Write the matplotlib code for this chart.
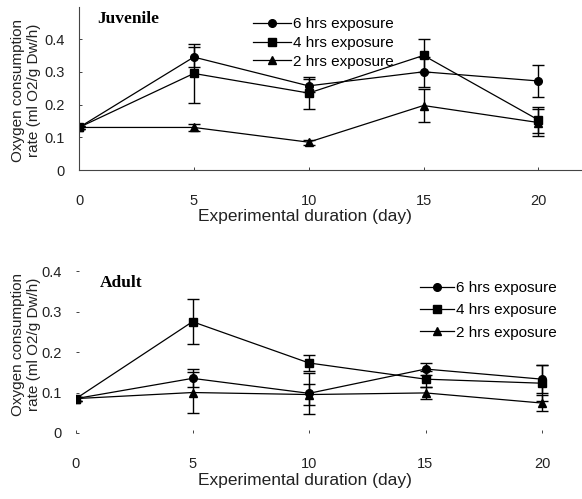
import numpy as np
import matplotlib
matplotlib.use('Agg')
import matplotlib.pyplot as plt

plt.rcParams['font.family'] = ['Liberation Sans', 'DejaVu Sans']

days = [0, 5, 10, 15, 20]
labels = ['6 hrs exposure', '4 hrs exposure', '2 hrs exposure']
markers = ['o', 's', '^']

# juvenile
juv_6h = [0.13, 0.345, 0.257, 0.30, 0.272]
juv_6h_err = [0.005, 0.03, 0.02, 0.045, 0.05]
juv_4h = [0.13, 0.295, 0.235, 0.35, 0.153]
juv_4h_err = [0.005, 0.09, 0.05, 0.05, 0.04]
juv_2h = [0.13, 0.13, 0.085, 0.197, 0.145]
juv_2h_err = [0.005, 0.012, 0.008, 0.05, 0.04]

# adult
ad_6h = [0.085, 0.135, 0.098, 0.158, 0.133]
ad_6h_err = [0.005, 0.022, 0.05, 0.015, 0.035]
ad_4h = [0.085, 0.275, 0.173, 0.133, 0.123]
ad_4h_err = [0.005, 0.055, 0.02, 0.02, 0.045]
ad_2h = [0.085, 0.10, 0.095, 0.099, 0.074]
ad_2h_err = [0.005, 0.05, 0.025, 0.015, 0.02]

yticks = [0, 0.1, 0.2, 0.3, 0.4]
ytick_labels = ['0', '0.1', '0.2', '0.3', '0.4']

W, H = 582, 499
fig = plt.figure(figsize=(W / 100, H / 100), dpi=100)


def px_axes(left, top, right, bottom):
    return fig.add_axes([left / W, 1 - bottom / H, (right - left) / W, (bottom - top) / H])


def draw(ax, series, errs):
    handles = []
    for y, e, m, lab in zip(series, errs, markers, labels):
        h = ax.errorbar(days, y, yerr=e, color='black', marker=m, markersize=5.5,
                        lw=0.9, elinewidth=1, capsize=4, capthick=1, label=lab)
        handles.append(h[0])
    ax.set_yticks(yticks)
    ax.set_yticklabels(ytick_labels)
    ax.set_xticks(days)
    ax.tick_params(direction='in', length=2, width=0.6, labelsize=10.5, colors='#222222')
    ax.tick_params(axis='x', pad=17)
    ax.tick_params(axis='y', pad=10)
    for s in ['top', 'right']:
        ax.spines[s].set_visible(False)
    return handles


# top panel
ax1 = px_axes(79, 7, 582, 170)
h1 = draw(ax1, [juv_6h, juv_4h, juv_2h], [juv_6h_err, juv_4h_err, juv_2h_err])
ax1.set_xlim(0, 21.9)
ax1.set_ylim(0, 0.498)
for s in ['left', 'bottom']:
    ax1.spines[s].set_linestyle((0, (1, 1)))
    ax1.spines[s].set_linewidth(0.8)
    ax1.spines[s].set_color('#444444')
ax1.text(97 / W, 1 - 19 / H, 'Juvenile', transform=fig.transFigure, family='Liberation Serif',
         fontweight='bold', fontsize=12.5, va='center', ha='left')
fig.legend(handles=h1, labels=labels, loc='upper left', bbox_to_anchor=(253 / W, 1 - 17 / H),
           frameon=False, fontsize=11, handlelength=2.5, handletextpad=0.15,
           labelspacing=0.32, borderpad=0, borderaxespad=0)

# bottom panel
ax2 = px_axes(76, 263, 582, 433)
h2 = draw(ax2, [ad_6h, ad_4h, ad_2h], [ad_6h_err, ad_4h_err, ad_2h_err])
ax2.set_xlim(0, (582 - 76) / 23.3)
ax2.set_ylim(0, 0.42)
for s in ['left', 'bottom']:
    ax2.spines[s].set_visible(False)
ax2.text(100 / W, 1 - 283 / H, 'Adult', transform=fig.transFigure, family='Liberation Serif',
         fontweight='bold', fontsize=12.5, va='center', ha='left')
fig.legend(handles=h2, labels=labels, loc='upper left', bbox_to_anchor=(420 / W, 1 - 281 / H),
           frameon=False, fontsize=11, handlelength=2.2, handletextpad=0.15,
           labelspacing=0.55, borderpad=0, borderaxespad=0)

ylab = 'Oxygen consumption\nrate (ml O2/g Dw/h)'
fig.text(26 / W, 1 - 90 / H, ylab, rotation=90, ha='center', va='center', fontsize=11,
         color='#222222', linespacing=1.15)
fig.text(26 / W, 1 - 344 / H, ylab, rotation=90, ha='center', va='center', fontsize=11,
         color='#222222', linespacing=1.15)
fig.text(305 / W, 1 - 216 / H, 'Experimental duration (day)', ha='center', va='center',
         fontsize=12.5, color='#222222')
fig.text(305 / W, 1 - 480 / H, 'Experimental duration (day)', ha='center', va='center',
         fontsize=12.5, color='#222222')

fig.savefig('out.png', dpi=100)
